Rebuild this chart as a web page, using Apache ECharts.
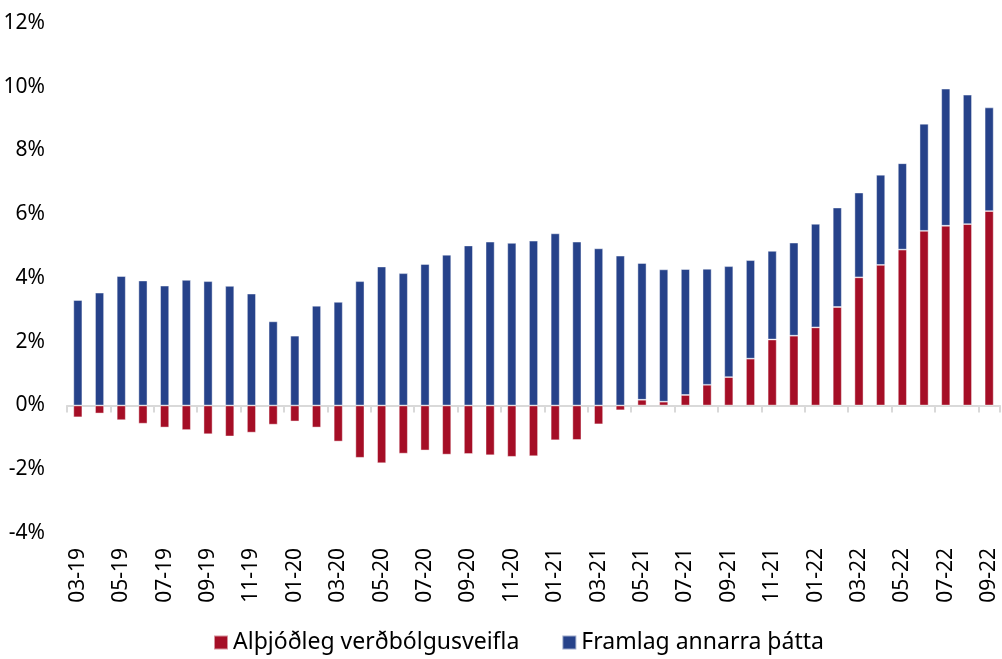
<!doctype html>
<meta charset="utf-8">
<title>Verðbólga</title>
<style>
	html, body { margin: 0; padding: 0; background: #fff; }
	#chart { width: 1002px; height: 659px; }
</style>
<div id="chart"></div>
<script src="https://cdn.jsdelivr.net/npm/echarts@6/dist/echarts.min.js"></script>
<script>
	const months = [
		'03-19', '04-19', '05-19', '06-19', '07-19', '08-19', '09-19', '10-19', '11-19', '12-19',
		'01-20', '02-20', '03-20', '04-20', '05-20', '06-20', '07-20', '08-20', '09-20', '10-20', '11-20', '12-20',
		'01-21', '02-21', '03-21', '04-21', '05-21', '06-21', '07-21', '08-21', '09-21', '10-21', '11-21', '12-21',
		'01-22', '02-22', '03-22', '04-22', '05-22', '06-22', '07-22', '08-22', '09-22'
	];
	// Alþjóðleg verðbólgusveifla
	const global = [
		-0.37, -0.25, -0.46, -0.57, -0.69, -0.77, -0.90, -0.97, -0.85, -0.60,
		-0.50, -0.69, -1.13, -1.64, -1.81, -1.51, -1.41, -1.54, -1.52, -1.56, -1.61, -1.59,
		-1.09, -1.08, -0.59, -0.15, 0.18, 0.12, 0.33, 0.65, 0.89, 1.47, 2.07, 2.19,
		2.45, 3.09, 4.02, 4.41, 4.89, 5.48, 5.64, 5.69, 6.10
	];
	// Framlag annarra þátta
	const other = [
		3.31, 3.54, 4.06, 3.92, 3.76, 3.94, 3.90, 3.75, 3.51, 2.64,
		2.19, 3.13, 3.25, 3.90, 4.36, 4.15, 4.44, 4.73, 5.02, 5.14, 5.10, 5.17,
		5.40, 5.14, 4.93, 4.70, 4.29, 4.15, 3.95, 3.64, 3.48, 3.09, 2.78, 2.92,
		3.25, 3.12, 2.66, 2.83, 2.71, 3.36, 4.30, 4.06, 3.25
	];

	const font = "'Noto Sans', sans-serif";
	var chart = echarts.init(document.getElementById('chart'));
	chart.setOption({
		animation: false,
		grid: { left: 67, right: 2, top: 23, bottom: 126 },
		legend: {
			left: 208, top: 626,
			itemWidth: 14, itemHeight: 14, itemGap: 42,
			icon: 'rect',
			textStyle: { fontFamily: font, fontSize: 23, color: '#000' },
			data: ['Alþjóðleg verðbólgusveifla', 'Framlag annarra þátta']
		},
		xAxis: [{
			type: 'category',
			data: months,
			axisLine: { onZero: true, lineStyle: { color: '#d9d9d9', width: 2 } },
			axisTick: { show: true, interval: 1, length: 7, lineStyle: { color: '#d9d9d9', width: 2 } },
			axisLabel: { show: false }
		}, {
			type: 'category',
			data: months,
			position: 'bottom',
			axisLine: { show: false, onZero: false },
			axisTick: { show: false },
			axisLabel: {
				interval: 1, rotate: 90, margin: 15,
				fontFamily: font, fontSize: 21, color: '#000'
			}
		}],
		yAxis: {
			type: 'value',
			min: -4, max: 12, interval: 2,
			splitLine: { show: false },
			axisLine: { show: false },
			axisLabel: {
				formatter: '{value}%', margin: 22,
				fontFamily: font, fontSize: 21, color: '#000'
			}
		},
		series: [{
			name: 'Alþjóðleg verðbólgusveifla',
			type: 'bar',
			stack: 'total',
			barWidth: 9,
			data: global,
			itemStyle: { color: '#a50e26', borderColor: 'rgba(255,255,255,0.55)', borderWidth: 0.8 }
		}, {
			name: 'Framlag annarra þátta',
			type: 'bar',
			stack: 'total',
			barWidth: 9,
			data: other,
			itemStyle: { color: '#26428a', borderColor: 'rgba(255,255,255,0.55)', borderWidth: 0.8 }
		}]
	});
</script>
